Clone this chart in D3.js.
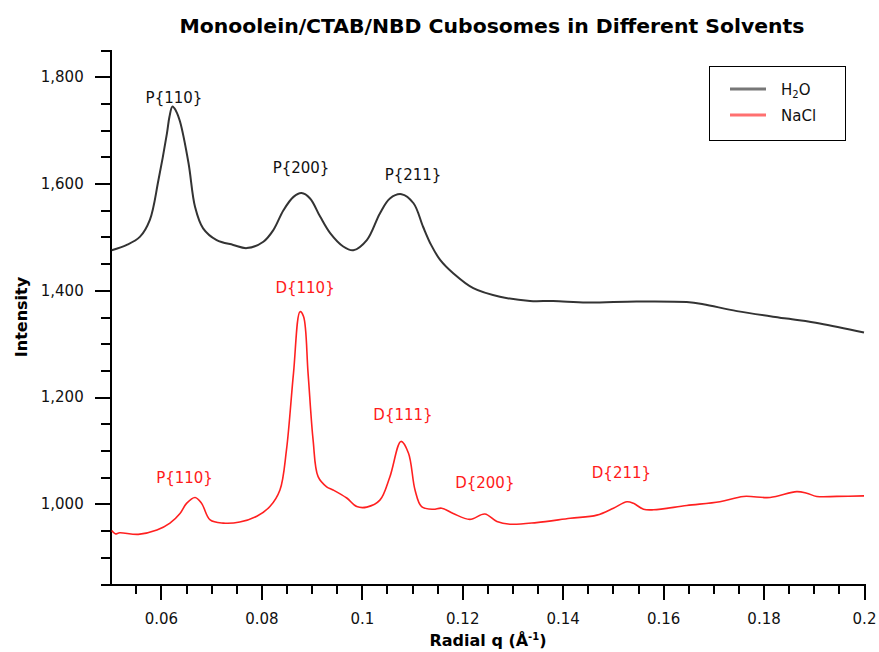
<!DOCTYPE html>
<html>
<head>
<meta charset="utf-8">
<script src="https://cdn.jsdelivr.net/npm/d3@7/dist/d3.min.js"></script>
<style>
  html, body { margin: 0; padding: 0; background: #fff; }
  svg { display: block; font-family: "DejaVu Sans", Verdana, sans-serif; }
</style>
</head>
<body>
<svg id="chart" width="879" height="652"></svg>
<script>
// ---- Data ----
const h2oQ = [0.0502, 0.0532, 0.0558, 0.0578, 0.0595, 0.0612, 0.0617, 0.0623, 0.0630, 0.0638, 0.0655, 0.0668, 0.0684, 0.0711, 0.0744, 0.0771, 0.0804, 0.0824, 0.0844, 0.0864, 0.0880, 0.0897, 0.0917, 0.0937, 0.0963, 0.0983, 0.1010, 0.1036, 0.1056, 0.1079, 0.1103, 0.1122, 0.1138, 0.1156, 0.1182, 0.1222, 0.1275, 0.1335, 0.1381, 0.1448, 0.1547, 0.1647, 0.1680, 0.1747, 0.1846, 0.1912, 0.2000];
const h2oI = [1475, 1485, 1500, 1532, 1606, 1694, 1725, 1744, 1736, 1716, 1638, 1556, 1516, 1494, 1485, 1479, 1491, 1513, 1550, 1575, 1582, 1572, 1538, 1507, 1482, 1475, 1494, 1544, 1572, 1580, 1563, 1519, 1485, 1457, 1432, 1404, 1388, 1380, 1380, 1377, 1379, 1378, 1374, 1361, 1347, 1338, 1321];

const naclQ = [0.0502, 0.0509, 0.0518, 0.0555, 0.0592, 0.0618, 0.0638, 0.0651, 0.0668, 0.0681, 0.0698, 0.0724, 0.0757, 0.0791, 0.0817, 0.0837, 0.0850, 0.0864, 0.0877, 0.0884, 0.0893, 0.0903, 0.0913, 0.0930, 0.0943, 0.0970, 0.0990, 0.1010, 0.1036, 0.1056, 0.1078, 0.1093, 0.1106, 0.1119, 0.1142, 0.1159, 0.1182, 0.1215, 0.1245, 0.1269, 0.1295, 0.1348, 0.1415, 0.1468, 0.1501, 0.1528, 0.1541, 0.1561, 0.1581, 0.1647, 0.1713, 0.1760, 0.1813, 0.1866, 0.1886, 0.1906, 0.1946, 0.2000];
const naclI = [950, 944, 946, 943, 951, 964, 982, 1001, 1012, 1001, 970, 964, 966, 977, 995, 1026, 1101, 1245, 1360, 1351, 1245, 1120, 1051, 1032, 1026, 1011, 995, 994, 1007, 1051, 1117, 1095, 1026, 995, 990, 992, 982, 971, 981, 967, 962, 965, 973, 979, 992, 1004, 1001, 990, 989, 997, 1004, 1014, 1012, 1023, 1020, 1014, 1014, 1015];

const seriesNames = ["H\u2082O", "NaCl"];
const xMajorTicks = [0.06, 0.08, 0.1, 0.12, 0.14, 0.16, 0.18, 0.2];
const xTickLabels = ["0.06", "0.08", "0.1", "0.12", "0.14", "0.16", "0.18", "0.2"];
const yMajorTicks = [1000, 1200, 1400, 1600, 1800];
const yTickLabels = ["1,000", "1,200", "1,400", "1,600", "1,800"];

const h2oLabels = ["P{110}", "P{200}", "P{211}"];
const h2oLabelQ = [0.0626, 0.0879, 0.1102];
const h2oLabelI = [1751, 1619, 1607];
const naclLabels = ["P{110}", "D{110}", "D{111}", "D{200}", "D{211}"];
const naclLabelQ = [0.0647, 0.0887, 0.1082, 0.1245, 0.1517];
const naclLabelI = [1040, 1395, 1158, 1029, 1049];

// ---- Layout ----
const svg = d3.select("#chart");
const plotL = 110.7, plotR = 864, plotT = 50, plotB = 584;
const x = d3.scaleLinear().domain([0.05, 0.2]).range([plotL, plotR]);
const y = d3.scaleLinear().domain([850, 1850]).range([plotB, plotT]);

const colH2O = "#333333", colNaCl = "#ff2020";

// Title
svg.append("text")
  .attr("x", 492).attr("y", 33)
  .attr("text-anchor", "middle")
  .attr("font-family", "'DejaVu Sans Condensed', 'DejaVu Sans', sans-serif")
  .attr("font-weight", "bold")
  .attr("font-size", 19)
  .attr("textLength", 625).attr("lengthAdjust", "spacingAndGlyphs")
  .attr("fill", "#000")
  .text("Monoolein/CTAB/NBD Cubosomes in Different Solvents");

// Axes
const fmtX = (d) => xTickLabels[xMajorTicks.indexOf(d)];
const fmtY = (d) => yTickLabels[yMajorTicks.indexOf(d)];

const xMinor = d3.range(0.055, 0.2001, 0.005).filter(v => !xMajorTicks.some(m => Math.abs(m - v) < 1e-6));
const yMinor = d3.range(900, 1801, 50).filter(v => !yMajorTicks.includes(v));

const gx = svg.append("g").attr("transform", `translate(0,${plotB})`);
gx.call(d3.axisBottom(x).tickValues(xMinor).tickSize(10).tickSizeOuter(0).tickFormat(""));
gx.append("g").call(d3.axisBottom(x).tickValues(xMajorTicks).tickSize(16).tickSizeOuter(0).tickPadding(13).tickFormat(fmtX))
  .select(".domain").remove();

const gy = svg.append("g").attr("transform", `translate(${plotL},0)`);
gy.call(d3.axisLeft(y).tickValues(yMinor).tickSize(10).tickSizeOuter(10).tickFormat(""));
gy.append("g").call(d3.axisLeft(y).tickValues(yMajorTicks).tickSize(16).tickSizeOuter(0).tickPadding(11).tickFormat(fmtY))
  .select(".domain").remove();

svg.selectAll(".tick text")
  .attr("font-family", "'DejaVu Sans', sans-serif")
  .attr("font-size", 15).attr("fill", "#111");
svg.selectAll(".domain, .tick line").attr("stroke", "#000").attr("stroke-width", 2).attr("shape-rendering", "crispEdges");

// Axis titles
svg.append("text")
  .attr("transform", "translate(27,317) rotate(-90)")
  .attr("text-anchor", "middle")
  .attr("font-weight", "bold").attr("font-size", 16)
  .attr("fill", "#000")
  .text("Intensity");

const xt = svg.append("text")
  .attr("x", 488).attr("y", 646)
  .attr("text-anchor", "middle")
  .attr("font-weight", "bold").attr("font-size", 16)
  .attr("fill", "#000");
xt.append("tspan").text("Radial q (\u00C5");
xt.append("tspan").attr("font-size", 10).attr("dy", -6).text("-1");
xt.append("tspan").attr("dy", 6).text(")");

// Lines
const line = d3.line().x(d => x(d[0])).y(d => y(d[1])).curve(d3.curveCatmullRom.alpha(0.5));
const h2oData = h2oQ.map((q, i) => [q, h2oI[i]]);
const naclData = naclQ.map((q, i) => [q, naclI[i]]);

svg.append("path").datum(h2oData).attr("d", line)
  .attr("fill", "none").attr("stroke", colH2O).attr("stroke-width", 2);
svg.append("path").datum(naclData).attr("d", line)
  .attr("fill", "none").attr("stroke", colNaCl).attr("stroke-width", 1.6);

// Peak labels
svg.append("g").selectAll("text").data(h2oLabels).join("text")
  .attr("x", (d, i) => x(h2oLabelQ[i])).attr("y", (d, i) => y(h2oLabelI[i]))
  .attr("text-anchor", "middle").attr("font-size", 15).attr("fill", "#111")
  .text(d => d);
svg.append("g").selectAll("text").data(naclLabels).join("text")
  .attr("x", (d, i) => x(naclLabelQ[i])).attr("y", (d, i) => y(naclLabelI[i]))
  .attr("text-anchor", "middle").attr("font-size", 15).attr("fill", "#ff1a1a")
  .text(d => d);

// Legend
const lg = svg.append("g");
lg.append("rect").attr("x", 709.5).attr("y", 66.5).attr("width", 136).attr("height", 74)
  .attr("fill", "#fff").attr("stroke", "#000").attr("stroke-width", 1);
const legendColors = ["#777777", "#ff7070"];
seriesNames.forEach((name, i) => {
  const yy = 89 + i * 26;
  lg.append("line").attr("x1", 730).attr("x2", 766).attr("y1", yy).attr("y2", yy)
    .attr("stroke", legendColors[i]).attr("stroke-width", 3);
  const t = lg.append("text").attr("x", 781).attr("y", yy + 6).attr("font-size", 15).attr("fill", "#111");
  if (i === 0) {
    t.append("tspan").text("H");
    t.append("tspan").attr("font-size", 10).attr("dy", 3).text("2");
    t.append("tspan").attr("dy", -3).text("O");
  } else {
    t.text(name);
  }
});
</script>
</body>
</html>
